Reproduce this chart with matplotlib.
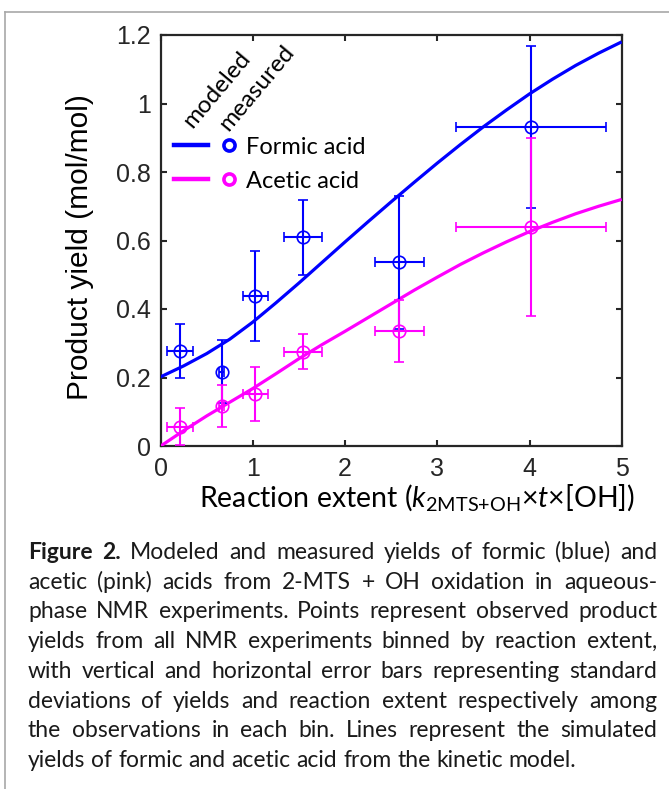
import matplotlib
matplotlib.use("Agg")
import matplotlib.pyplot as plt
from matplotlib.legend_handler import HandlerBase
from matplotlib.lines import Line2D

# measured (binned) data
formic_x = [0.206, 0.66, 1.026, 1.543, 2.589, 4.013]
formic_y = [0.277, 0.217, 0.438, 0.609, 0.536, 0.932]
formic_yerr = [0.079, 0.092, 0.131, 0.109, 0.195, 0.237]
acetic_x = [0.206, 0.66, 1.026, 1.543, 2.589, 4.013]
acetic_y = [0.056, 0.117, 0.152, 0.275, 0.335, 0.640]
acetic_yerr = [0.054, 0.061, 0.078, 0.051, 0.091, 0.260]
extent_xerr = [0.141, 0.03, 0.136, 0.204, 0.27, 0.813]

model_x = [0, 0.25, 0.5, 0.75, 1.0, 1.25, 1.5, 1.75, 2.0, 2.25, 2.5,
           2.75, 3.0, 3.25, 3.5, 3.75, 4.0, 4.25, 4.5, 4.75, 5.0]
model_formic_y = [0.202, 0.234, 0.270, 0.312, 0.362, 0.418, 0.476, 0.536, 0.596, 0.655, 0.713,
                  0.770, 0.826, 0.880, 0.932, 0.981, 1.028, 1.071, 1.111, 1.147, 1.180]
model_acetic_y = [0.0, 0.045, 0.088, 0.128, 0.168, 0.211, 0.255, 0.296, 0.335, 0.375, 0.415,
                  0.455, 0.493, 0.530, 0.564, 0.596, 0.626, 0.653, 0.678, 0.700, 0.720]

x_ticks = [0, 1, 2, 3, 4, 5]
y_ticks = [0, 0.2, 0.4, 0.6, 0.8, 1.0, 1.2]
y_tick_labels = ["0", "0.2", "0.4", "0.6", "0.8", "1", "1.2"]

caption_lines = [
    "Figure 2. Modeled and measured yields of formic (blue) and",
    "acetic (pink) acids from 2-MTS + OH oxidation in aqueous-",
    "phase NMR experiments. Points represent observed product",
    "yields from all NMR experiments binned by reaction extent,",
    "with vertical and horizontal error bars representing standard",
    "deviations of yields and reaction extent respectively among",
    "the observations in each bin. Lines represent the simulated",
    "yields of formic and acetic acid from the kinetic model.",
]

BLUE = "#0000ff"
PINK = "#ff00ff"
DARK = "#262626"
SANS = "Liberation Sans"
BODY = "Lato"

plt.rcParams["mathtext.fontset"] = "custom"
plt.rcParams["mathtext.rm"] = BODY
plt.rcParams["mathtext.it"] = BODY + ":italic"


class LineThenMarker(HandlerBase):
    def create_artists(self, legend, orig_handle, xdescent, ydescent, width, height, fontsize, trans):
        color = orig_handle.get_color()
        y = height / 2 - ydescent
        line = Line2D([-xdescent, -xdescent + 0.55 * width], [y, y], color=color, lw=3.2, transform=trans)
        mark = Line2D([-xdescent + 0.9 * width], [y], marker="o", ls="none", ms=8, mfc="none",
                      mec=color, mew=2.6, transform=trans)
        return [line, mark]


W, H = 669, 789
fig = plt.figure(figsize=(W / 100, H / 100), dpi=100)
ax = fig.add_axes([160.7 / W, 1 - 446 / H, 461 / W, 411 / H])

ax.plot(model_x, model_formic_y, color=BLUE, lw=2.3, solid_capstyle="butt", zorder=3)
ax.plot(model_x, model_acetic_y, color=PINK, lw=2.3, solid_capstyle="butt", zorder=3)

err_style = dict(fmt="o", ms=9, mfc="none", mew=1.2, elinewidth=1.5, capsize=3.5, capthick=1.5, zorder=4)
ax.errorbar(formic_x, formic_y, yerr=formic_yerr, xerr=extent_xerr, color=BLUE, **err_style)
ax.errorbar(acetic_x, acetic_y, yerr=acetic_yerr, xerr=extent_xerr, color=PINK, **err_style)

ax.set_xlim(0, 5)
ax.set_ylim(0, 1.2)
ax.set_xticks(x_ticks)
ax.set_yticks(y_ticks)
ax.set_yticklabels(y_tick_labels)
ax.tick_params(direction="in", length=4, width=1.5, top=True, right=True, colors=DARK,
               labelsize=18, labelcolor=DARK)
ax.tick_params(axis="y", pad=7)
ax.tick_params(axis="x", pad=8)
for lab in ax.get_xticklabels() + ax.get_yticklabels():
    lab.set_fontfamily(SANS)
for sp in ax.spines.values():
    sp.set_linewidth(1.6)
    sp.set_color(DARK)

ax.set_ylabel("Product yield (mol/mol)", fontsize=21.5, family=SANS, color="black")
ax.yaxis.set_label_coords(-0.145, 0.483)
ax.set_xlabel(r"Reaction extent ($k_{\mathrm{2MTS{+}OH}}$×$t$×[OH])", fontsize=20.5, family=BODY,
              color="black")
ax.xaxis.set_label_coords(0.555, -0.088)

handles = [Line2D([], [], color=BLUE), Line2D([], [], color=PINK)]
ax.legend(handles, ["Formic acid", "Acetic acid"], handler_map={Line2D: LineThenMarker()},
          loc="upper left", bbox_to_anchor=(0.029, 0.753), frameon=False, borderpad=0,
          borderaxespad=0, handlelength=2.6, handletextpad=0.45, labelspacing=0.55,
          prop={"family": BODY, "size": 17})
ax.text(0.068, 0.772, "modeled", rotation=50, rotation_mode="anchor", ha="left", va="baseline",
        transform=ax.transAxes, fontsize=17.5, family=BODY)
ax.text(0.146, 0.763, "measured", rotation=50, rotation_mode="anchor", ha="left", va="baseline",
        transform=ax.transAxes, fontsize=17.5, family=BODY)

# page border
fig.add_artist(Line2D([5 / W, 1], [1 - 12 / H, 1 - 12 / H], color="#a8a8a8", lw=1.2, transform=fig.transFigure))
fig.add_artist(Line2D([5 / W, 5 / W], [0, 1 - 12 / H], color="#a8a8a8", lw=1.2, transform=fig.transFigure))

# justified caption
fig.canvas.draw()
renderer = fig.canvas.get_renderer()
x_left, x_right = 28, 657
base0, step = 559, 29.7
cap_size = 16.5


def _width(s, **kw):
    t = fig.text(0, 0, s, fontsize=cap_size, family=BODY, **kw)
    w = t.get_window_extent(renderer).width
    t.remove()
    return w


space = _width("a a") - 2 * _width("a")
for i, line in enumerate(caption_lines):
    words = line.split(" ")
    y = 1 - (base0 + i * step) / H
    texts = []
    for j, w in enumerate(words):
        bold = i == 0 and j < 2
        texts.append(fig.text(0, y, w, fontsize=cap_size, family=BODY, va="baseline", ha="left",
                              weight="bold" if bold else "normal", color="#1a1a1a"))
    widths = [t.get_window_extent(renderer).width for t in texts]
    if i == len(caption_lines) - 1:
        gap = space
    else:
        gap = (x_right - x_left - sum(widths)) / (len(words) - 1)
    x = x_left
    for t, w in zip(texts, widths):
        t.set_x(x / W)
        x += w + gap

fig.savefig("out.png", dpi=100)
